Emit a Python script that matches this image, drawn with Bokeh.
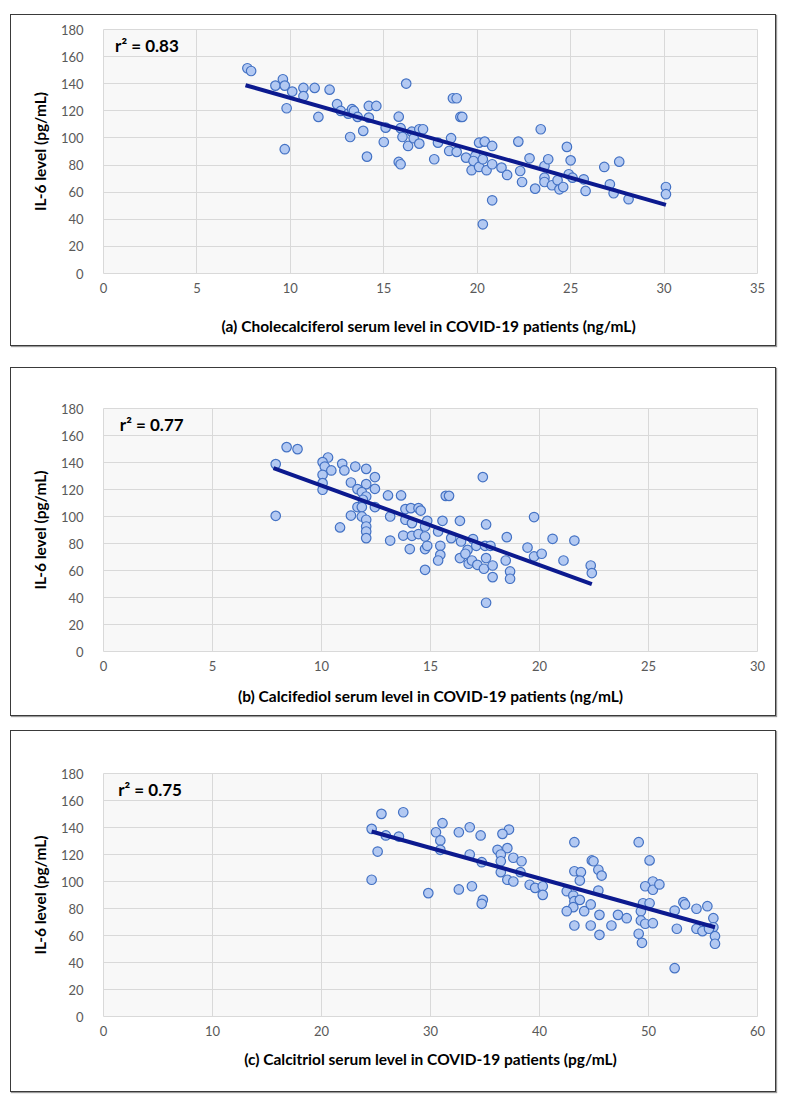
from bokeh.plotting import figure
from bokeh.layouts import column
from bokeh.models import Range1d, SingleIntervalTicker, Label, ColumnDataSource
from bokeh.embed import file_html
from bokeh.resources import INLINE

# ---------------- data ----------------
# (a) Cholecalciferol (ng/mL) vs IL-6 (pg/mL)
chole_x = [7.7, 7.9, 9.6, 9.2, 9.7, 10.1, 10.7, 11.3, 12.1, 10.7, 9.8, 11.5, 12.5, 9.7, 12.7,
           13.1, 13.3, 13.4, 13.6, 14.2, 14.6, 14.2, 13.9, 13.2, 14.1, 15.0, 15.1, 15.8, 16.2,
           15.9, 16.0, 16.3, 16.5, 16.6, 16.9, 17.1, 16.9, 15.8, 15.9, 17.7, 17.9, 18.6, 18.5,
           18.9, 18.7, 18.9, 19.1, 19.2, 19.4, 19.9, 19.8, 19.7, 20.1, 20.3, 20.1, 20.4, 20.8,
           20.5, 20.8, 20.8, 20.3, 21.3, 21.6, 22.2, 22.3, 22.4, 22.8, 23.1, 23.4, 23.6, 23.8,
           23.6, 23.6, 24.0, 24.3, 24.4, 24.6, 24.8, 25.0, 24.9, 25.1, 25.7, 25.8, 26.8, 27.6,
           27.1, 27.3, 28.1, 30.1, 30.1]
chole_il6 = [151.4, 149.4, 143.3, 138.6, 138.6, 134.2, 136.9, 136.9, 135.6, 130.8, 121.9, 115.5,
             124.9, 91.7, 119.9, 117.9, 121.2, 119.9, 115.5, 123.6, 123.6, 115.0, 105.2, 100.7,
             86.2, 97.0, 107.6, 115.7, 140.1, 107.2, 100.7, 94.1, 104.6, 99.8, 106.4, 106.4, 95.8,
             82.3, 80.6, 84.3, 96.5, 99.8, 90.4, 89.7, 129.3, 129.3, 115.5, 115.5, 85.5, 86.7,
             83.0, 76.2, 78.6, 84.3, 96.5, 97.3, 94.1, 76.2, 80.6, 54.0, 36.3, 78.1, 72.7, 97.3,
             75.6, 67.5, 85.0, 62.6, 106.4, 79.3, 84.3, 70.7, 67.5, 65.1, 68.8, 62.1, 63.8, 93.4,
             83.5, 73.2, 70.7, 69.5, 60.9, 78.6, 82.5, 65.8, 59.2, 54.8, 63.8, 58.5]
chole_trend_x = [7.6, 30.1]
chole_trend_y = [138.9, 50.6]

# (b) Calcifediol (ng/mL) vs IL-6 (pg/mL)
calcifediol_x = [8.4, 8.9, 7.9, 7.9,
                 10.3, 10.05, 10.15, 10.45, 10.05, 10.05, 10.05,
                 10.95, 11.05, 11.55, 12.05, 12.45, 11.35, 11.65, 12.05, 12.45, 11.85, 12.05, 11.9,
                 11.65, 11.85, 12.45, 11.35, 11.85, 12.05, 12.05, 12.05, 12.05, 10.85,
                 13.05, 13.65, 13.15, 13.15, 13.85, 13.85, 14.1, 14.45, 14.55, 14.15, 13.75, 14.15,
                 14.45, 14.75, 14.85, 14.75, 14.05, 14.75, 14.85, 14.75,
                 15.35, 15.55, 15.45, 15.45, 15.35, 15.7, 15.85, 15.95, 16.35, 16.35, 16.4, 16.7,
                 16.6, 16.95, 17.1, 16.75, 16.9, 17.15, 17.4, 17.55, 17.5, 17.75, 17.55, 17.45,
                 17.85, 17.85, 17.55,
                 18.5, 18.45, 18.65, 18.65, 19.45, 19.75, 19.75, 20.1, 20.6, 21.1, 21.6, 22.35, 22.4]
calcifediol_il6 = [151.4, 149.9, 138.8, 100.5,
                   143.7, 140.3, 137.0, 134.1, 130.9, 124.7, 119.8,
                   139.0, 134.1, 137.0, 135.3, 129.2, 125.2, 120.3, 124.0, 120.5, 118.1, 114.8, 112.4,
                   107.0, 107.0, 107.0, 100.7, 100.0, 97.6, 92.6, 88.9, 84.0, 91.9,
                   115.6, 115.6, 100.0, 82.2, 105.5, 97.6, 106.2, 106.2, 104.4, 95.1, 85.9, 85.7,
                   87.0, 85.2, 96.8, 92.6, 75.9, 75.9, 78.3, 60.5,
                   88.9, 96.8, 78.3, 71.6, 67.4, 115.3, 115.3, 84.0, 96.8, 69.2, 81.5, 75.3,
                   72.4, 83.3, 78.3, 65.0, 67.4, 64.2, 129.2, 94.1, 78.3, 78.3, 69.2, 61.3,
                   63.7, 55.1, 36.1,
                   84.7, 67.4, 59.3, 53.9, 77.0, 99.6, 70.4, 72.4, 83.5, 67.4, 82.2, 63.7, 58.1]
calcifediol_trend_x = [7.8, 22.4]
calcifediol_trend_y = [135.9, 49.9]

# (c) Calcitriol (pg/mL) vs IL-6 (pg/mL)
calcitriol_x = [25.5, 27.5, 24.6, 25.9, 27.1, 25.15, 24.6, 29.8, 31.1, 30.5, 30.9, 30.9, 32.6,
                33.6, 34.6, 33.6, 34.7, 32.6, 33.8, 34.8, 34.7,
                37.2, 36.6, 36.15, 37.05, 36.45, 36.45, 37.6, 38.35, 38.25, 36.45, 37.05, 37.6,
                39.1, 39.6, 40.3, 40.3, 43.2, 43.2, 43.8, 43.7, 42.5, 43.1, 43.2, 43.7, 43.1,
                42.5, 44.1, 44.7, 43.2, 44.8, 44.95, 45.4, 45.7, 45.4, 45.5, 44.7, 45.5, 46.6,
                47.2, 48.0, 49.1, 50.1, 50.4, 49.7, 50.4, 51.0, 49.5, 50.1, 49.3, 49.3, 49.7,
                50.4, 49.1, 49.4, 52.4, 52.4, 53.2, 53.35, 52.6, 54.4, 54.4, 54.95, 55.4, 55.95,
                55.95, 56.1, 56.1, 55.55]
calcitriol_il6 = [150.1, 151.3, 139.0, 134.1, 133.3, 122.2, 101.3, 91.4, 143.2, 136.5, 130.4,
                  123.5, 136.5, 140.2, 134.1, 120.0, 114.3, 94.1, 96.5, 86.4, 83.5,
                  138.5, 135.3, 123.5, 124.7, 120.0, 115.0, 117.6, 115.0, 106.9, 106.9, 101.3,
                  100.0, 97.6, 95.3, 96.5, 90.1, 129.1, 107.6, 106.9, 100.7, 92.8, 89.6, 85.4,
                  86.4, 81.0, 78.0, 78.0, 83.0, 67.4, 115.6, 115.0, 108.7, 104.4, 93.3, 75.3,
                  67.4, 60.5, 67.4, 75.3, 72.8, 129.1, 115.6, 100.0, 96.5, 93.9, 97.8, 83.9,
                  83.9, 78.0, 71.1, 68.7, 69.1, 61.3, 54.6, 35.8, 78.5, 84.7, 83.0, 65.0, 79.8,
                  65.0, 63.2, 81.7, 72.8, 66.1, 59.5, 53.9, 65.0]
calcitriol_trend_x = [24.6, 56.1]
calcitriol_trend_y = [137.0, 66.1]

x_maxes = [35, 30, 60]
x_steps = [5, 5, 10]
r2_texts = ["r\u00b2 = 0.83", "r\u00b2 = 0.77", "r\u00b2 = 0.75"]
x_titles = ["(a) Cholecalciferol serum level in COVID-19 patients  (ng/mL)",
            "(b) Calcifediol serum level in COVID-19 patients (ng/mL)",
            "(c) Calcitriol serum level in COVID-19 patients (pg/mL)"]
y_title = "IL-6 level (pg/mL)"

FONT = "Lato"
GRID = "#d9d9d9"


def panel(xs, ys, tx, ty, xmax, xstep, r2, xtitle, r2x, height, borders, title_standoff):
    left, right, top, bottom = borders
    p = figure(width=766, height=height, output_backend="svg", toolbar_location=None,
               x_range=Range1d(0, xmax), y_range=Range1d(0, 180),
               min_border_left=left, min_border_right=right,
               min_border_top=top, min_border_bottom=bottom,
               background_fill_color="#f8f8f8", border_fill_color="white",
               outline_line_color=GRID)
    p.styles = {"border": "1px solid #3a3a3a", "box-shadow": "1px 1px 1px #9a9a9a"}
    p.xaxis.ticker = SingleIntervalTicker(interval=xstep)
    p.yaxis.ticker = SingleIntervalTicker(interval=20)
    for ax in (p.xaxis, p.yaxis):
        ax.axis_line_color = None
        ax.major_tick_line_color = None
        ax.minor_tick_line_color = None
        ax.major_label_text_font = FONT
        ax.major_label_text_font_size = "13px"
        ax.major_label_text_color = "#595959"
        ax.axis_label_text_font = FONT
        ax.axis_label_text_font_size = "15.5px"
        ax.axis_label_text_font_style = "bold"
        ax.axis_label_text_color = "#000000"
    p.xaxis.major_label_standoff = 3
    p.xaxis.axis_label_standoff = title_standoff
    p.yaxis.major_label_standoff = 14
    p.yaxis.axis_label_standoff = 9
    p.xaxis.axis_label = xtitle
    p.yaxis.axis_label = y_title
    p.xgrid.grid_line_color = GRID
    p.ygrid.grid_line_color = GRID
    p.xgrid.ticker = SingleIntervalTicker(interval=xstep)
    p.ygrid.ticker = SingleIntervalTicker(interval=20)

    src = ColumnDataSource(dict(x=xs, y=ys))
    p.scatter("x", "y", source=src, size=9.5, fill_color="#b3c9f2",
              line_color="#4472c4", line_width=1.2)
    p.line(tx, ty, line_color="#0c1a8f", line_width=4)
    p.add_layout(Label(x=r2x, y=168.5, text=r2, text_font=FONT, text_font_size="17px",
                       text_font_style="bold", text_baseline="middle", text_color="black"))
    return p


pa = panel(chole_x, chole_il6, chole_trend_x, chole_trend_y, x_maxes[0], x_steps[0],
           r2_texts[0], x_titles[0], 0.62, 332, (92, 20, 14, 74), 21)
pb = panel(calcifediol_x, calcifediol_il6, calcifediol_trend_x, calcifediol_trend_y,
           x_maxes[1], x_steps[1], r2_texts[1], x_titles[1], 0.75, 349, (82, 17, 40, 66), 13)
pc = panel(calcitriol_x, calcitriol_il6, calcitriol_trend_x, calcitriol_trend_y,
           x_maxes[2], x_steps[2], r2_texts[2], x_titles[2], 1.35, 362, (82, 20, 42, 77), 11)

pa.margin = (14, 0, 0, 10)
pb.margin = (21, 0, 0, 10)
pc.margin = (14, 0, 0, 10)

layout = column(pa, pb, pc, spacing=0)
open("out.html", "w").write(file_html(layout, INLINE))
